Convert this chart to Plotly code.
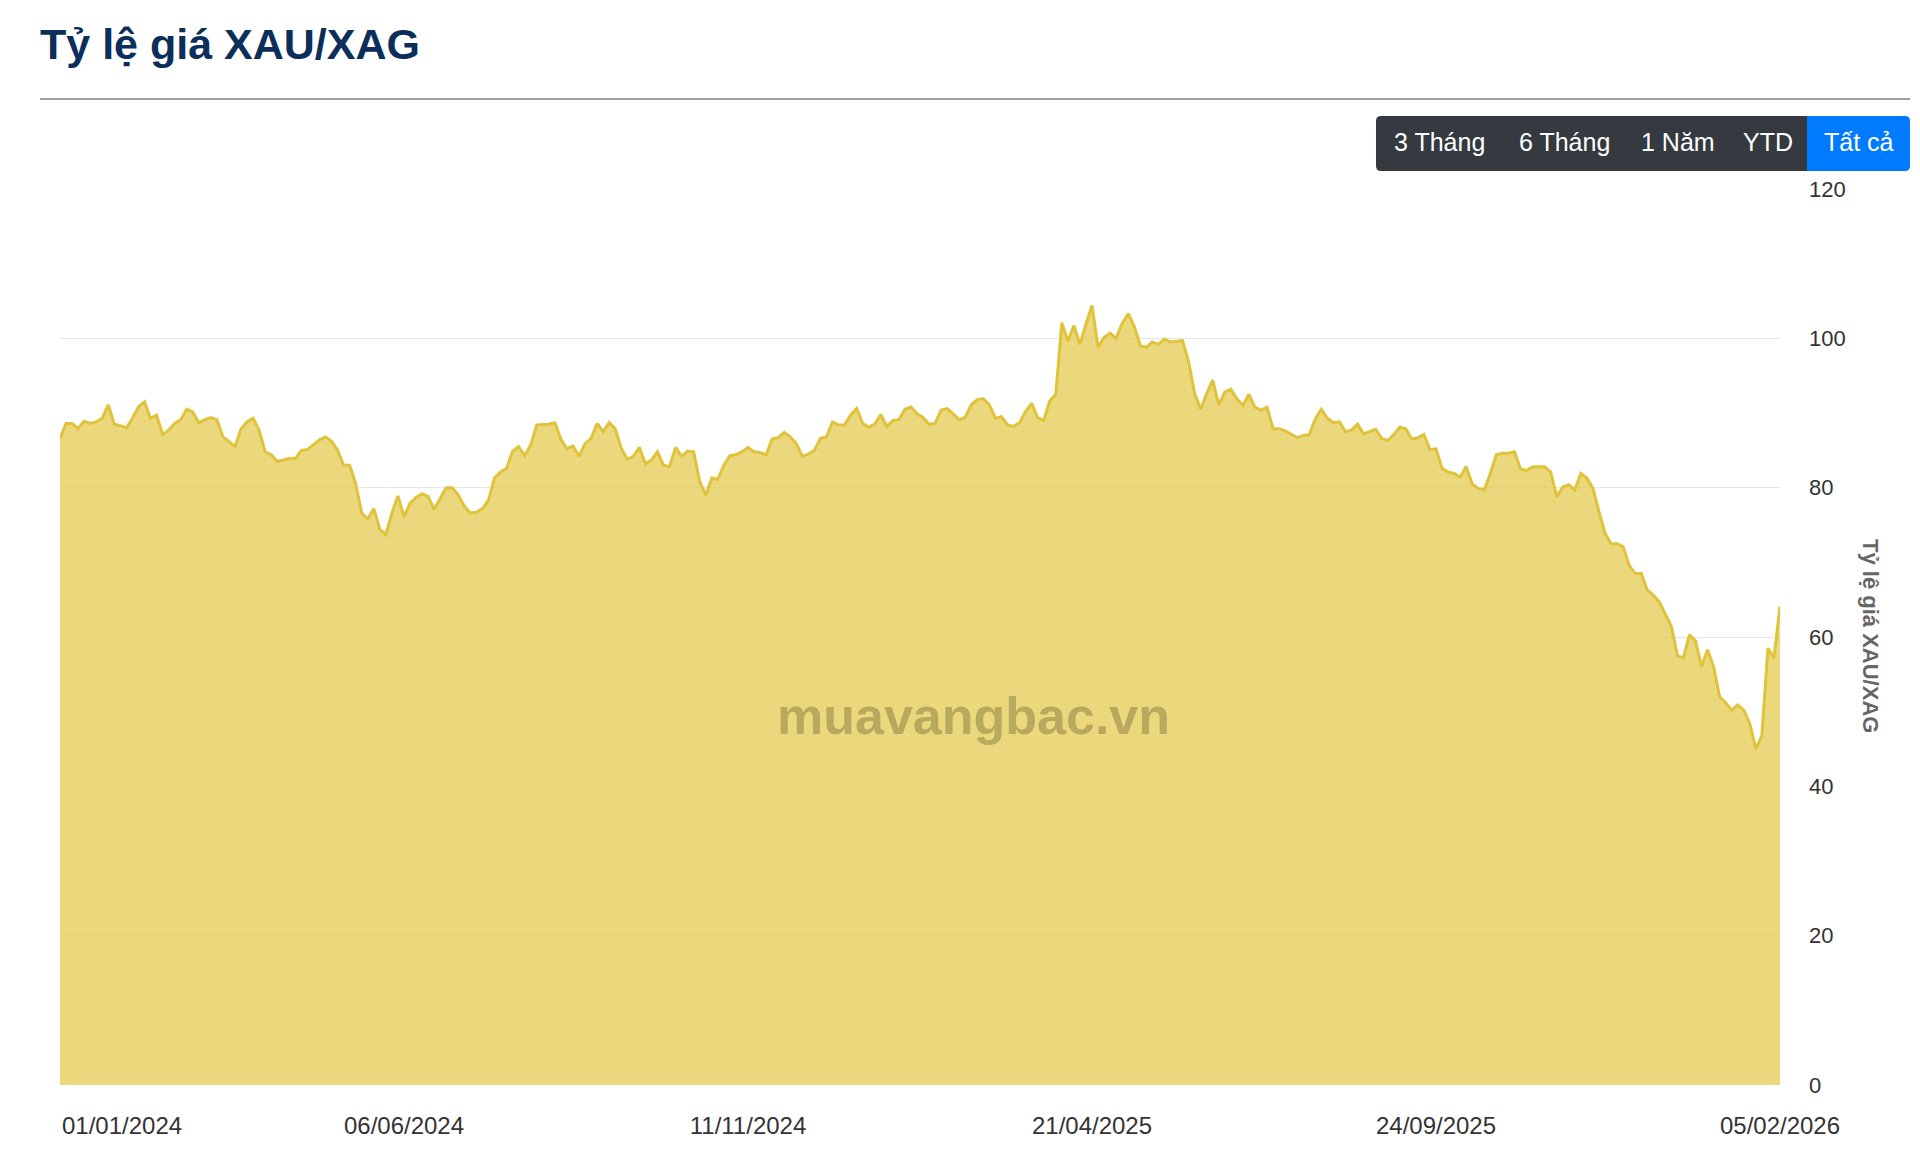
import pandas as pd
import plotly.graph_objects as go

TITLE = "Tỷ lệ giá XAU/XAG"
AXIS_TITLE = "Tỷ lệ giá XAU/XAG"
WATERMARK = "muavangbac.vn"
BUTTONS = ["3 Tháng", "6 Tháng", "1 Năm", "YTD", "Tất cả"]
TICK_DATES = ["01/01/2024", "06/06/2024", "11/11/2024", "21/04/2025", "24/09/2025", "05/02/2026"]
POINTS_PER_SEGMENT = 57

RATIO_2024_H1 = [
    86.6, 88.6, 88.6, 87.9, 88.9, 88.6, 88.8, 89.3, 91.1, 88.5,
    88.3, 88.0, 89.3, 90.8, 91.5, 89.3, 89.7, 87.1, 87.7, 88.6,
    89.1, 90.5, 90.1, 88.7, 89.1, 89.4, 89.1, 86.8, 86.2, 85.5,
    87.9, 88.8, 89.3, 87.7, 84.8, 84.4, 83.5, 83.7, 83.9, 83.9,
    85.0, 85.1, 85.7, 86.4, 86.8, 86.2, 85.0, 83.0, 83.0, 80.5,
    76.6, 75.8, 77.2, 74.4, 73.7, 76.6, 78.9,
]
RATIO_2024_H2 = [
    76.1, 77.9, 78.7, 79.2, 78.8, 77.1, 78.6, 80.0, 80.0, 79.0,
    77.5, 76.6, 76.7, 77.2, 78.3, 81.3, 82.1, 82.6, 84.9, 85.5,
    84.3, 85.7, 88.4, 88.4, 88.5, 88.7, 86.5, 85.2, 85.6, 84.2,
    85.9, 86.6, 88.6, 87.5, 88.7, 87.9, 85.3, 83.8, 84.2, 85.4,
    83.2, 83.7, 84.8, 83.0, 82.8, 85.4, 84.2, 84.9, 84.8, 80.8,
    79.0, 81.3, 81.1, 83.0, 84.3, 84.4, 84.8,
]
RATIO_2025_H1 = [
    85.4, 84.8, 84.7, 84.4, 86.5, 86.7, 87.4, 86.8, 85.9, 84.2,
    84.5, 85.0, 86.6, 86.8, 88.8, 88.4, 88.4, 89.7, 90.6, 88.6,
    88.1, 88.5, 89.8, 88.2, 89.0, 89.1, 90.5, 90.8, 89.9, 89.4,
    88.5, 88.6, 90.4, 90.6, 89.9, 89.1, 89.4, 91.1, 91.8, 91.9,
    91.1, 89.3, 89.5, 88.4, 88.2, 88.7, 90.2, 91.3, 89.4, 89.0,
    91.6, 92.5, 102.1, 99.6, 101.7, 99.2, 101.9,
]
RATIO_2025_H2 = [
    104.4, 98.8, 100.1, 100.7, 100.0, 102.0, 103.3, 101.6, 99.0, 98.8,
    99.5, 99.2, 99.9, 99.5, 99.6, 99.7, 96.9, 92.6, 90.5, 92.6,
    94.4, 91.1, 92.8, 93.2, 91.9, 91.0, 92.5, 90.8, 90.4, 90.8,
    87.9, 87.9, 87.6, 87.2, 86.7, 87.0, 87.1, 89.2, 90.5, 89.3,
    88.7, 88.8, 87.5, 87.7, 88.5, 87.2, 87.5, 87.8, 86.6, 86.3,
    87.1, 88.1, 87.9, 86.5, 86.7, 87.1, 85.1,
]
RATIO_2026 = [
    85.2, 82.6, 82.1, 81.9, 81.4, 82.8, 80.5, 79.9, 79.7, 81.9,
    84.4, 84.6, 84.6, 84.8, 82.5, 82.3, 82.8, 82.8, 82.8, 82.1,
    78.8, 80.1, 80.4, 79.7, 81.9, 81.3, 79.9, 76.8, 73.9, 72.5,
    72.5, 72.1, 69.6, 68.5, 68.5, 66.3, 65.6, 64.7, 63.1, 61.4,
    57.5, 57.2, 60.3, 59.5, 56.0, 58.3, 56.0, 52.0, 51.2, 50.2,
    50.9, 50.2, 48.4, 45.0, 46.8, 58.5, 57.2, 64.1,
]
RATIO = RATIO_2024_H1 + RATIO_2024_H2 + RATIO_2025_H1 + RATIO_2025_H2 + RATIO_2026

# category labels: the axis places its labels evenly, POINTS_PER_SEGMENT points apart
tick_ts = [pd.to_datetime(d, dayfirst=True) for d in TICK_DATES]
dates = []
for k in range(len(tick_ts) - 1):
    seg = list(pd.date_range(tick_ts[k], tick_ts[k + 1], periods=POINTS_PER_SEGMENT + 1).normalize())
    if k > 0:
        seg = seg[1:]
    dates.extend(seg)
labels = [d.strftime("%d/%m/%Y") for d in dates]

W, H = 1920, 1165
L, R, T, B = 60, 140, 189, 80
PW, PH = W - L - R, H - T - B


def px(x):
    return (x - L) / PW


def py(y):
    return (H - B - y) / PH


FONT = "Liberation Sans, Arial, Helvetica, sans-serif"

fig = go.Figure()
fig.add_trace(go.Scatter(
    x=labels, y=RATIO, mode="lines",
    line=dict(color="#e0c33a", width=3),
    fill="tozeroy", fillcolor="rgba(226,200,70,0.7)",
    hoverinfo="x+y", showlegend=False,
))

shapes = []
# separator line under title
shapes.append(dict(type="line", xref="paper", yref="paper",
                   x0=px(40), x1=px(1910), y0=py(99), y1=py(99),
                   line=dict(color="#a0a0a0", width=2)))


def rrect(x0, y0, x1, y1, rl, rr):
    # rounded rect in pixel coords -> paper path
    def P(x, y):
        return f"{px(x):.6f},{py(y):.6f}"
    p = f"M {P(x0 + rl, y0)} L {P(x1 - rr, y0)} "
    if rr:
        p += f"Q {P(x1, y0)} {P(x1, y0 + rr)} "
    p += f"L {P(x1, y1 - rr)} "
    if rr:
        p += f"Q {P(x1, y1)} {P(x1 - rr, y1)} "
    p += f"L {P(x0 + rl, y1)} "
    if rl:
        p += f"Q {P(x0, y1)} {P(x0, y1 - rl)} "
    p += f"L {P(x0, y0 + rl)} "
    if rl:
        p += f"Q {P(x0, y0)} {P(x0 + rl, y0)} "
    return p + "Z"


BY0, BY1 = 116, 171
shapes.append(dict(type="path", xref="paper", yref="paper",
                   path=rrect(1376, BY0, 1808, BY1, 5, 0),
                   fillcolor="#343a40", line=dict(width=0)))
shapes.append(dict(type="path", xref="paper", yref="paper",
                   path=rrect(1807, BY0, 1910, BY1, 0, 5),
                   fillcolor="#007bff", line=dict(width=0)))

annotations = []
annotations.append(dict(xref="paper", yref="paper", x=px(38), y=py(44),
                        xanchor="left", yanchor="middle", showarrow=False,
                        text=f"<b>{TITLE}</b>",
                        font=dict(family=FONT, size=43, color="#0b2e5a")))
btn_centers = [1439, 1564, 1678, 1768, 1859]
for txt, cx in zip(BUTTONS, btn_centers):
    annotations.append(dict(xref="paper", yref="paper", x=px(cx), y=py(142),
                            xanchor="center", yanchor="middle", showarrow=False,
                            text=txt, font=dict(family=FONT, size=25, color="#ffffff")))
annotations.append(dict(xref="paper", yref="paper", x=px(1871), y=py(636),
                        xanchor="center", yanchor="middle", showarrow=False,
                        textangle=90, text=f"<b>{AXIS_TITLE}</b>",
                        font=dict(family=FONT, size=22, color="#666666")))
annotations.append(dict(xref="paper", yref="paper", x=px(973), y=py(716),
                        xanchor="center", yanchor="middle", showarrow=False,
                        text=f"<b>{WATERMARK}</b>",
                        font=dict(family=FONT, size=52, color="rgba(110,100,50,0.40)")))
# first date label is pushed right so it starts at the plot edge
annotations.append(dict(xref="x", yref="paper", x=TICK_DATES[0], y=py(1125),
                        xanchor="left", yanchor="middle", showarrow=False,
                        text=TICK_DATES[0],
                        font=dict(family=FONT, size=24, color="#333333")))

fig.update_layout(
    width=W, height=H,
    margin=dict(l=L, r=R, t=T, b=B, pad=0),
    paper_bgcolor="white", plot_bgcolor="white",
    font=dict(family=FONT, color="#333333"),
    shapes=shapes, annotations=annotations,
    xaxis=dict(type="category", range=[0, len(labels) - 1],
               tickmode="array", tickvals=TICK_DATES[1:], ticktext=TICK_DATES[1:],
               showgrid=False, zeroline=False, showline=False, ticks="",
               ticklabelstandoff=24,
               tickfont=dict(family=FONT, size=24, color="#333333")),
    yaxis=dict(side="right", range=[0, 120], tick0=0, dtick=20,
               showgrid=True, gridcolor="#e6e6e6", gridwidth=1,
               zeroline=False, showline=False, ticks="",
               ticklabelstandoff=28,
               tickfont=dict(family=FONT, size=22, color="#333333")),
)

fig.write_html("out.html", config={"displayModeBar": False},
               post_script="document.body.style.margin='0';document.body.style.overflow='hidden';")
